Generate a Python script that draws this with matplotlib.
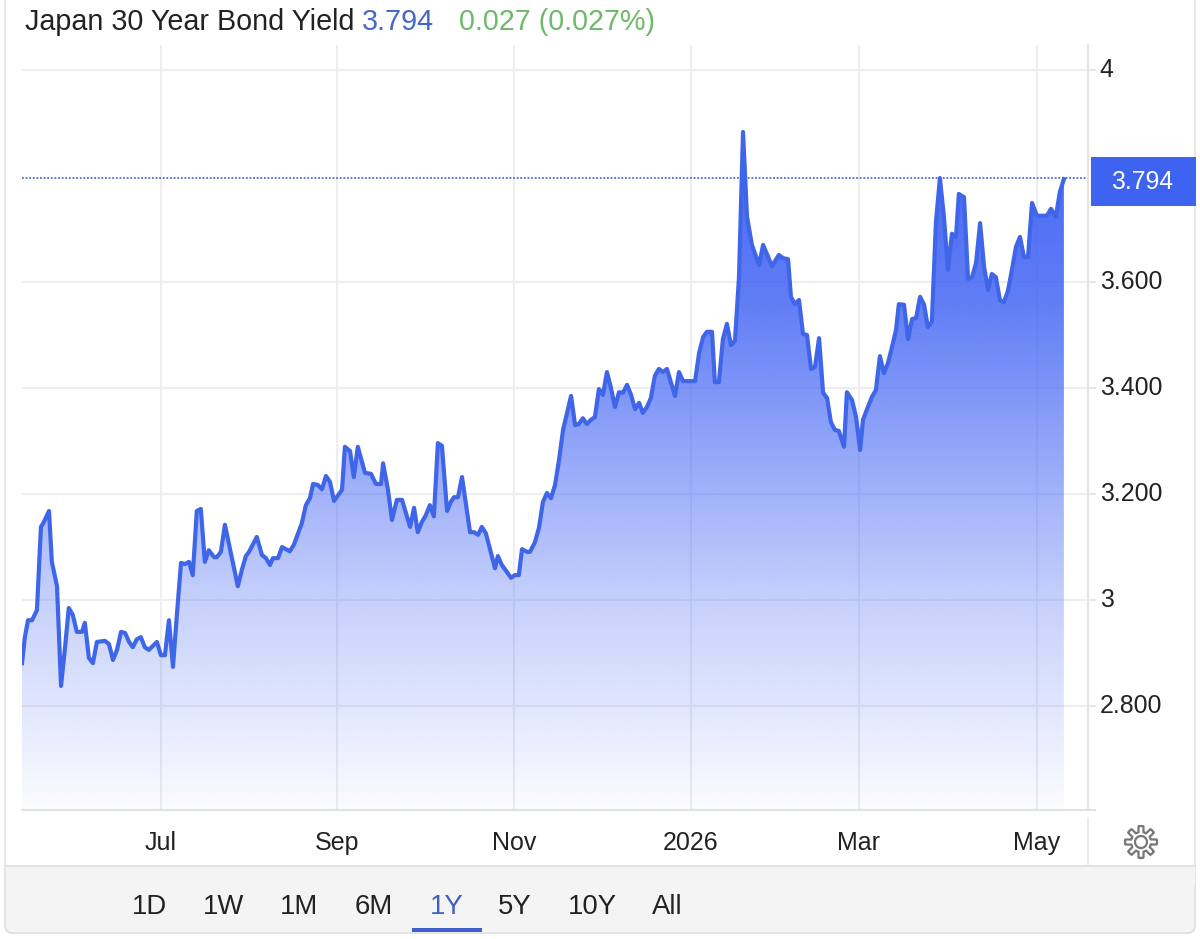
import numpy as np
from matplotlib import pyplot as plt
from matplotlib.patches import FancyBboxPatch, PathPatch, Rectangle
from matplotlib.path import Path

plt.rcParams['font.family'] = ['Liberation Sans', 'DejaVu Sans']

# days counted from 1 Jul 2025
days = [-48.4, -47.4, -46.3, -44.9, -43.2, -41.8, -40.8, -39.0, -38.0, -36.2, -34.8, -33.4, -32.1, -30.7, -29.3,
        -27.5, -26.5, -25.1, -23.7, -22.3, -19.5, -18.1, -16.7, -15.3, -13.9, -12.5, -11.1, -9.8, -8.4, -7.0,
        -5.6, -4.2, -1.4, 0, 1.4, 2.8, 4.2, 5.6, 7.0, 8.4, 9.8, 11.1, 12.5, 13.9, 15.3,
        16.7, 18.5, 19.5, 20.9, 22.3, 24.0, 25.1, 26.8, 28.2, 29.6, 30.7, 33.4, 35.2, 36.6, 38.0,
        39.0, 40.8, 42.2, 44.9, 46.3, 49.1, 50.5, 51.9, 53.0, 54.7, 56.1, 57.5, 58.9, 60.3, 63.1,
        64.1, 65.9, 67.2, 68.6, 71.1, 73.2, 74.9, 76.7, 77.4, 79.1, 80.5, 82.2, 84.0, 86.8, 88.2,
        89.5, 90.9, 92.3, 93.7, 95.1, 96.5, 97.9, 99.7, 101.0, 102.1, 103.5, 104.9, 107.7, 109.1, 110.5,
        111.8, 113.2, 116.4, 117.4, 118.8, 122.0, 123.3, 124.7, 125.8, 127.5, 128.6, 130.3, 131.7, 133.1, 134.5,
        135.9, 137.3, 138.7, 140.1, 142.9, 144.3, 145.6, 147.0, 148.4, 149.8, 151.2, 152.6, 154.0, 155.4, 156.8,
        158.2, 159.6, 161.0, 162.4, 163.8, 165.2, 166.6, 167.9, 169.3, 170.7, 172.1, 173.5, 174.9, 176.3, 179.1,
        180.5, 181.9, 186.1, 187.5, 188.9, 190.2, 192.0, 193.0, 194.4, 195.8, 197.2, 198.6, 200.0, 201.4, 202.8,
        204.2, 205.9, 208.4, 209.8, 212.9, 215.3, 216.7, 218.5, 219.5, 220.9, 222.3, 223.7, 225.1, 226.5, 227.9,
        229.3, 230.7, 232.1, 233.4, 234.8, 236.2, 238.0, 239.0, 240.8, 242.2, 243.6, 244.6, 246.3, 247.7, 249.1,
        250.5, 251.9, 253.3, 254.7, 256.1, 257.1, 258.9, 260.3, 261.7, 263.1, 264.5, 265.9, 267.2, 268.6, 270.0,
        271.4, 272.8, 274.2, 275.6, 277.0, 278.0, 279.8, 281.2, 282.6, 284.0, 285.4, 286.8, 288.2, 289.5, 290.9,
        292.3, 293.7, 295.1, 296.5, 297.9, 299.3, 300.7, 302.1, 303.5, 305.2, 308.7, 310.1, 311.8, 313.2, 314.6]

yields = [2.881, 2.930, 2.962, 2.962, 2.981, 3.138, 3.147, 3.168, 3.072, 3.026, 2.838, 2.911, 2.985, 2.972, 2.940,
          2.940, 2.957, 2.891, 2.881, 2.921, 2.923, 2.917, 2.887, 2.906, 2.940, 2.938, 2.921, 2.911, 2.926, 2.930,
          2.911, 2.906, 2.921, 2.896, 2.896, 2.962, 2.874, 2.975, 3.070, 3.068, 3.072, 3.047, 3.168, 3.172, 3.072,
          3.094, 3.081, 3.081, 3.091, 3.142, 3.098, 3.070, 3.026, 3.057, 3.083, 3.091, 3.119, 3.085, 3.079, 3.066,
          3.079, 3.079, 3.100, 3.092, 3.104, 3.145, 3.179, 3.192, 3.219, 3.217, 3.209, 3.234, 3.223, 3.187, 3.208,
          3.289, 3.281, 3.232, 3.289, 3.240, 3.238, 3.219, 3.219, 3.258, 3.208, 3.151, 3.189, 3.189, 3.138, 3.174,
          3.128, 3.147, 3.160, 3.179, 3.158, 3.296, 3.291, 3.168, 3.185, 3.194, 3.194, 3.232, 3.128, 3.128, 3.123,
          3.138, 3.126, 3.060, 3.083, 3.066, 3.042, 3.047, 3.047, 3.096, 3.091, 3.091, 3.109, 3.136, 3.185, 3.202,
          3.192, 3.217, 3.264, 3.321, 3.385, 3.330, 3.332, 3.343, 3.332, 3.340, 3.345, 3.398, 3.387, 3.430, 3.400,
          3.364, 3.392, 3.391, 3.406, 3.387, 3.360, 3.372, 3.353, 3.364, 3.381, 3.423, 3.436, 3.430, 3.436, 3.385,
          3.430, 3.413, 3.413, 3.466, 3.496, 3.506, 3.506, 3.411, 3.411, 3.492, 3.521, 3.481, 3.489, 3.609, 3.883,
          3.723, 3.670, 3.632, 3.670, 3.630, 3.651, 3.645, 3.643, 3.572, 3.558, 3.566, 3.502, 3.500, 3.436, 3.440,
          3.494, 3.391, 3.381, 3.336, 3.321, 3.319, 3.289, 3.392, 3.377, 3.345, 3.283, 3.340, 3.364, 3.383, 3.396,
          3.460, 3.428, 3.447, 3.477, 3.509, 3.558, 3.557, 3.492, 3.530, 3.532, 3.572, 3.557, 3.515, 3.525, 3.711,
          3.796, 3.723, 3.623, 3.691, 3.685, 3.766, 3.760, 3.606, 3.609, 3.636, 3.711, 3.628, 3.585, 3.615, 3.609,
          3.566, 3.562, 3.583, 3.623, 3.666, 3.685, 3.647, 3.647, 3.749, 3.725, 3.725, 3.738, 3.723, 3.770, 3.794]

y_ticks = [2.8, 3.0, 3.2, 3.4, 3.6, 4.0]
y_labels = ['2.800', '3', '3.200', '3.400', '3.600', '4']
x_ticks = [0, 61.3, 123, 184.6, 243.2, 305.2]
x_labels = ['Jul', 'Sep', 'Nov', '2026', 'Mar', 'May']
ranges = ['1D', '1W', '1M', '6M', '1Y', '5Y', '10Y', 'All']
range_x = [150, 224, 299, 374, 447, 515, 592, 667]

LINE = '#3f66e8'
GRID = '#eceef2'
INK = '#222222'

fig = plt.figure(figsize=(12, 9.39), dpi=100)

# page furniture sits on a full-figure axes measured in pixels
page = fig.add_axes([0, 0, 1, 1], zorder=0)
page.set_xlim(0, 1200)
page.set_ylim(939, 0)
page.axis('off')
page.add_patch(FancyBboxPatch((5, -30), 1190, 963, boxstyle='round,pad=0,rounding_size=8',
                              facecolor='white', edgecolor='#e8e8e8', linewidth=1.5))
page.add_patch(FancyBboxPatch((5, 866), 1190, 67, boxstyle='round,pad=0,rounding_size=8',
                              facecolor='#f4f4f4', edgecolor='#e2e2e2', linewidth=1.2))
page.add_patch(Rectangle((5.5, 866), 1189, 20, facecolor='#f4f4f4', edgecolor='none'))
page.plot([5, 1195], [866, 866], color='#e2e2e2', lw=1.5)
page.plot([1088, 1088], [818, 866], color='#e6e6e6', lw=1.2)
page.plot([1088, 1095], [810, 810], color='#e3e3e3', lw=1.5)

# header
page.text(25, 22, 'Japan 30 Year Bond Yield', fontsize=20.7, color=INK, va='center')
page.text(362, 22, '3.794', fontsize=20.7, color='#4468c8', va='center')
page.text(459, 22, '0.027 (0.027%)', fontsize=20.6, color='#6cba68', va='center')

# range buttons
for name, x in zip(ranges, range_x):
    page.text(x, 906.5, name, fontsize=19.8, ha='center', va='center',
              color='#3f5fc8' if name == '1Y' else INK)
page.add_patch(Rectangle((412, 928), 70, 3.5, facecolor='#3f5fc8', edgecolor='none'))

# settings gear
angle = np.linspace(0, 2 * np.pi, 321)
outer = 13 + 3 * np.clip(3 * np.cos(8 * angle), -1, 1)
gear = np.column_stack([1141 + outer * np.sin(angle), 842 + outer * np.cos(angle)])
hole = np.column_stack([1141 + 6 * np.sin(angle), 842 + 6 * np.cos(angle)])
page.plot(gear[:, 0], gear[:, 1], color='#777777', lw=1.6)
page.plot(hole[:, 0], hole[:, 1], color='#777777', lw=1.6)

# chart
ax = fig.add_axes([22 / 1200, 1 - 810 / 939, (1088 - 22) / 1200, (810 - 45) / 939], zorder=1)
ax.patch.set_alpha(0)

ax.set_axisbelow(True)
ax.grid(True, color=GRID, lw=1.5)
ax.set_xticks(x_ticks, x_labels)
ax.set_yticks(y_ticks, y_labels)
ax.yaxis.tick_right()
ax.tick_params(axis='x', length=0, pad=15, labelsize=18, labelcolor=INK)
ax.tick_params(axis='y', length=6, width=1.2, color='#e3e3e3', pad=2.5, labelsize=17.9, labelcolor=INK)
for label in ax.get_yticklabels():
    label.set_y(label.get_position()[1])
    label.set_verticalalignment('center')
for side in ['top', 'left']:
    ax.spines[side].set_visible(False)
for side in ['right', 'bottom']:
    ax.spines[side].set_color('#e3e3e3')
    ax.spines[side].set_linewidth(1.5)

# area fill: blue fading down to nothing
fade = np.linspace(1, 0, 256)
shade = np.zeros((256, 1, 4))
shade[:, 0, :3] = (0.27, 0.40, 0.96)
shade[:, 0, 3] = np.interp(fade, [0, 0.31, 0.75, 1], [0.02, 0.31, 0.85, 1])
img = ax.imshow(shade, extent=[days[0], days[-1], 2.604, max(yields)], origin='upper',
                aspect='auto', zorder=1.5, interpolation='bilinear')
outline = np.column_stack([days + [days[-1], days[0]], yields + [2.604, 2.604]])
clip = PathPatch(Path(outline), transform=ax.transData, facecolor='none', edgecolor='none')
ax.add_patch(clip)
img.set_clip_path(clip)
ax.set_xlim(-48.4, 323.0)
ax.set_ylim(2.604, 4.047)

ax.plot(days, yields, color=LINE, lw=3.0, solid_joinstyle='round', zorder=3)
ax.axhline(yields[-1] + 0.003, color='#4a6fd0', lw=1.3, ls=(0, (1, 1)), zorder=2.5)

# last value tag
tag = fig.add_axes([0, 0, 1, 1], zorder=2)
tag.set_xlim(0, 1200)
tag.set_ylim(939, 0)
tag.axis('off')
tag.add_patch(Rectangle((1091, 157), 105, 49, facecolor='#3d63f0', edgecolor='none'))
tag.text(1142, 182, '3.794', color='white', fontsize=17.9, ha='center', va='center')

fig.savefig('out.png', dpi=100)
